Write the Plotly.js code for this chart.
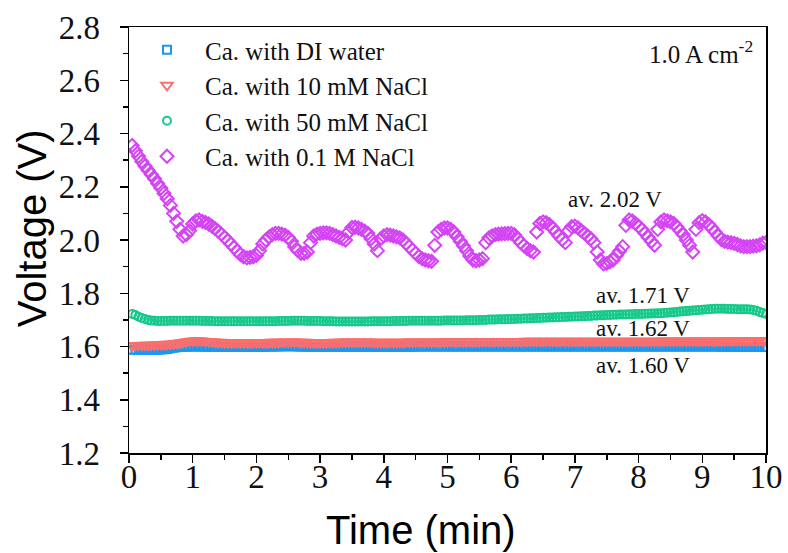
<!DOCTYPE html>
<html>
<head>
<meta charset="utf-8">
<script src="https://cdn.plot.ly/plotly-3.0.1.min.js"></script>
<style>html,body{margin:0;padding:0;background:#fff;}#chart{width:788px;height:553px;}</style>
</head>
<body>
<div id="chart"></div>
<script>
// sampling interval of the recorded data (min)
const SAMPLE_STEP = 0.05;

const seriesNames = ["Ca. with DI water", "Ca. with 10 mM NaCl", "Ca. with 50 mM NaCl", "Ca. with 0.1 M NaCl"];

const diWater = [
1.588,1.588,1.588,1.588,1.588,1.588,1.588,1.588,1.588,1.589,1.590,1.591,1.593,1.595,1.597,1.598,1.599,1.599,1.600,1.600,
1.600,1.600,1.600,1.599,1.599,1.599,1.599,1.599,1.599,1.599,1.599,1.599,1.599,1.599,1.599,1.599,1.599,1.599,1.599,1.599,
1.599,1.599,1.599,1.600,1.600,1.600,1.600,1.601,1.601,1.601,1.601,1.601,1.600,1.600,1.600,1.599,1.599,1.599,1.599,1.599,
1.599,1.599,1.599,1.599,1.599,1.599,1.599,1.599,1.599,1.599,1.599,1.599,1.599,1.599,1.599,1.599,1.599,1.599,1.599,1.599,
1.599,1.599,1.599,1.599,1.599,1.599,1.599,1.599,1.599,1.600,1.600,1.600,1.600,1.600,1.600,1.600,1.600,1.600,1.600,1.600,
1.600,1.600,1.600,1.600,1.600,1.600,1.600,1.600,1.600,1.600,1.600,1.600,1.600,1.600,1.600,1.600,1.600,1.600,1.600,1.600,
1.600,1.600,1.600,1.600,1.600,1.600,1.600,1.600,1.600,1.600,1.600,1.600,1.600,1.600,1.600,1.600,1.600,1.600,1.600,1.600,
1.600,1.600,1.600,1.600,1.600,1.600,1.600,1.600,1.600,1.600,1.600,1.600,1.600,1.600,1.600,1.600,1.600,1.600,1.600,1.600,
1.600,1.600,1.600,1.600,1.600,1.600,1.600,1.600,1.600,1.600,1.600,1.600,1.600,1.600,1.600,1.600,1.600,1.600,1.600,1.600,
1.600,1.600,1.600,1.600,1.600,1.599,1.599,1.599,1.599,1.599,1.599,1.598,1.598,1.598,1.598,1.598,1.598,1.598,1.598,1.598
];

const nacl10mM = [
1.604,1.604,1.604,1.605,1.605,1.605,1.606,1.606,1.607,1.607,1.608,1.608,1.609,1.610,1.612,1.614,1.616,1.618,1.620,1.621,
1.622,1.622,1.621,1.620,1.619,1.618,1.617,1.616,1.616,1.615,1.615,1.615,1.615,1.615,1.615,1.615,1.615,1.615,1.615,1.615,
1.615,1.615,1.615,1.616,1.616,1.616,1.616,1.617,1.617,1.617,1.617,1.617,1.617,1.616,1.616,1.616,1.615,1.615,1.615,1.615,
1.615,1.615,1.615,1.616,1.616,1.616,1.617,1.617,1.617,1.617,1.617,1.617,1.617,1.617,1.617,1.617,1.616,1.616,1.616,1.616,
1.616,1.616,1.616,1.616,1.616,1.616,1.617,1.617,1.617,1.617,1.617,1.617,1.617,1.617,1.617,1.617,1.617,1.617,1.618,1.618,
1.618,1.618,1.618,1.618,1.618,1.618,1.618,1.618,1.618,1.618,1.619,1.619,1.619,1.619,1.619,1.619,1.619,1.619,1.619,1.619,
1.619,1.619,1.619,1.620,1.620,1.620,1.620,1.620,1.620,1.620,1.620,1.620,1.620,1.620,1.620,1.620,1.620,1.620,1.620,1.620,
1.620,1.620,1.620,1.620,1.620,1.620,1.620,1.620,1.620,1.620,1.620,1.620,1.620,1.620,1.620,1.620,1.620,1.620,1.620,1.620,
1.620,1.620,1.620,1.620,1.620,1.620,1.621,1.621,1.621,1.621,1.621,1.621,1.621,1.621,1.621,1.621,1.621,1.621,1.621,1.621,
1.621,1.621,1.621,1.621,1.621,1.621,1.621,1.622,1.622,1.622,1.622,1.622,1.622,1.622,1.622,1.622,1.622,1.622,1.622,1.622
];

const nacl50mM = [
1.722,1.718,1.712,1.707,1.703,1.700,1.698,1.697,1.696,1.696,1.696,1.696,1.697,1.697,1.697,1.697,1.697,1.697,1.697,1.697,
1.697,1.697,1.696,1.696,1.696,1.696,1.695,1.695,1.695,1.695,1.695,1.695,1.695,1.695,1.695,1.695,1.695,1.695,1.695,1.695,
1.695,1.695,1.695,1.695,1.695,1.695,1.696,1.696,1.696,1.696,1.697,1.697,1.697,1.697,1.697,1.696,1.696,1.696,1.696,1.696,
1.695,1.695,1.695,1.695,1.694,1.694,1.694,1.694,1.694,1.694,1.694,1.694,1.694,1.694,1.694,1.695,1.695,1.695,1.695,1.695,
1.695,1.695,1.696,1.696,1.696,1.696,1.696,1.697,1.697,1.697,1.697,1.697,1.697,1.697,1.697,1.697,1.697,1.697,1.698,1.698,
1.698,1.698,1.698,1.698,1.698,1.699,1.699,1.699,1.699,1.700,1.700,1.700,1.701,1.701,1.701,1.702,1.702,1.702,1.703,1.703,
1.703,1.704,1.704,1.705,1.705,1.706,1.706,1.707,1.707,1.708,1.708,1.709,1.709,1.710,1.710,1.711,1.711,1.712,1.712,1.713,
1.713,1.714,1.714,1.715,1.715,1.716,1.716,1.717,1.717,1.718,1.718,1.719,1.719,1.720,1.720,1.720,1.721,1.721,1.722,1.722,
1.722,1.723,1.723,1.724,1.724,1.725,1.725,1.726,1.727,1.728,1.729,1.730,1.731,1.732,1.733,1.734,1.735,1.736,1.737,1.738,
1.739,1.740,1.741,1.742,1.742,1.742,1.742,1.741,1.741,1.741,1.740,1.740,1.740,1.740,1.739,1.737,1.734,1.730,1.726,1.722
];

const nacl01M = [
2.355,2.335,2.315,2.295,2.278,2.262,2.246,2.230,2.212,2.195,2.175,2.155,2.130,2.100,2.070,2.040,2.015,2.020,2.035,2.060,
2.072,2.075,2.070,2.066,2.060,2.052,2.043,2.033,2.022,2.010,1.998,1.985,1.972,1.958,1.945,1.937,1.933,1.935,1.937,1.942,
1.960,1.985,2.000,2.012,2.020,2.025,2.025,2.022,2.018,2.010,1.995,1.975,1.960,1.950,1.950,1.955,1.990,2.015,2.022,2.025,
2.027,2.027,2.025,2.020,2.015,2.010,2.005,2.000,2.030,2.047,2.048,2.045,2.040,2.033,2.025,2.005,1.985,1.960,2.005,2.015,
2.020,2.018,2.015,2.012,2.008,2.000,1.988,1.975,1.962,1.950,1.938,1.930,1.925,1.922,1.920,1.980,2.030,2.040,2.045,2.045,
2.040,2.030,2.012,1.995,1.978,1.960,1.940,1.925,1.922,1.925,1.930,1.990,2.008,2.015,2.020,2.022,2.023,2.024,2.025,2.025,
2.020,2.005,1.990,1.978,1.968,1.960,1.955,2.030,2.062,2.068,2.065,2.058,2.045,2.030,2.015,2.002,1.990,2.035,2.050,2.052,
2.045,2.035,2.025,2.015,2.005,1.990,1.955,1.925,1.910,1.912,1.918,1.925,1.942,1.958,1.975,2.055,2.075,2.072,2.062,2.052,
2.040,2.025,2.010,1.995,1.980,2.040,2.068,2.075,2.072,2.068,2.062,2.050,2.035,2.020,2.000,1.980,1.955,2.040,2.065,2.073,
2.068,2.058,2.045,2.030,2.015,2.002,1.995,1.992,1.990,1.987,1.983,1.978,1.975,1.975,1.975,1.977,1.978,1.982,1.988,1.990
];

const avgLabels = ["av. 2.02 V", "av. 1.71 V", "av. 1.62 V", "av. 1.60 V"];
const currentLabel = "1.0 A cm<sup>-2</sup>";
const xTitle = "Time (min)";
const yTitle = "Voltage (V)";
const xTickVals = [0,1,2,3,4,5,6,7,8,9,10];
const yTickVals = [1.2,1.4,1.6,1.8,2.0,2.2,2.4,2.6,2.8];

function timeAxis(n) {
  const t = [];
  for (let i = 0; i < n; i++) t.push(+((i + 1) * SAMPLE_STEP).toFixed(2));
  return t;
}

const colors = ["#1a98f0", "#fa6e6e", "#16c98a", "#d444f5"];
const symbols = ["square-open", "triangle-down-open", "circle-open", "diamond-open"];
const sizes = [8, 10, 8, 10];
const allY = [diWater, nacl10mM, nacl50mM, nacl01M];

const traces = allY.map((ys, k) => ({
  type: "scatter",
  mode: "markers",
  name: seriesNames[k],
  x: timeAxis(ys.length),
  y: ys,
  marker: { symbol: symbols[k], size: sizes[k], color: colors[k], line: { color: colors[k], width: 2 } }
}));

const serif = "Liberation Serif, Times New Roman, serif";
const sans = "Liberation Sans, Arial, sans-serif";

const annFont = { family: serif, size: 23, color: "#111" };
const annotations = [
  { x: 6.86, y: 2.154, text: avgLabels[0] },
  { x: 7.30, y: 1.793, text: avgLabels[1] },
  { x: 7.30, y: 1.669, text: avgLabels[2] },
  { x: 7.30, y: 1.530, text: avgLabels[3] }
].map(a => Object.assign({ xref: "x", yref: "y", xanchor: "left", yanchor: "middle", showarrow: false, font: annFont }, a));
annotations.push({ x: 9.82, y: 2.706, xref: "x", yref: "y", xanchor: "right", yanchor: "middle", showarrow: false, text: currentLabel, font: { family: serif, size: 25, color: "#111" } });
// axis titles (placed as in the reference, slightly off-centre)
annotations.push({ x: 0.458, y: -0.181, xref: "paper", yref: "paper", xanchor: "center", yanchor: "middle", showarrow: false, text: xTitle, font: { family: sans, size: 40, color: "#000" } });
annotations.push({ x: -0.151, y: 0.527, xref: "paper", yref: "paper", xanchor: "center", yanchor: "middle", showarrow: false, textangle: -90, text: yTitle, font: { family: sans, size: 40, color: "#000" } });

const layout = {
  width: 788, height: 553,
  margin: { l: 129, r: 22, t: 27, b: 100 },
  paper_bgcolor: "#fff", plot_bgcolor: "#fff",
  showlegend: true,
  legend: { x: 0.0, y: 1.0, xanchor: "left", yanchor: "top", bgcolor: "rgba(0,0,0,0)", itemwidth: 66, font: { family: serif, size: 25, color: "#111" } },
  xaxis: {
    range: [0, 10], tickvals: xTickVals, ticks: "outside", ticklen: 8, tickwidth: 1.5, tickcolor: "#000",
    showline: true, linecolor: "#000", linewidth: 1.5, mirror: true, showgrid: false, zeroline: false,
    tickfont: { family: serif, size: 33, color: "#111" }, ticklabelstandoff: -14,
    minor: { dtick: 0.5, ticks: "outside", ticklen: 5, tickwidth: 1.5, tickcolor: "#000", showgrid: false }
  },
  yaxis: {
    range: [1.2, 2.8], tickvals: yTickVals, tickformat: ".1f", ticks: "outside", ticklen: 8, tickwidth: 1.5, tickcolor: "#000",
    showline: true, linecolor: "#000", linewidth: 1.5, mirror: true, showgrid: false, zeroline: false,
    tickfont: { family: serif, size: 33, color: "#111" }, ticklabelstandoff: 13,
    minor: { dtick: 0.1, ticks: "outside", ticklen: 5, tickwidth: 1.5, tickcolor: "#000", showgrid: false }
  },
  annotations: annotations
};

Plotly.newPlot("chart", traces, layout, { displayModeBar: false, staticPlot: true });
</script>
</body>
</html>
